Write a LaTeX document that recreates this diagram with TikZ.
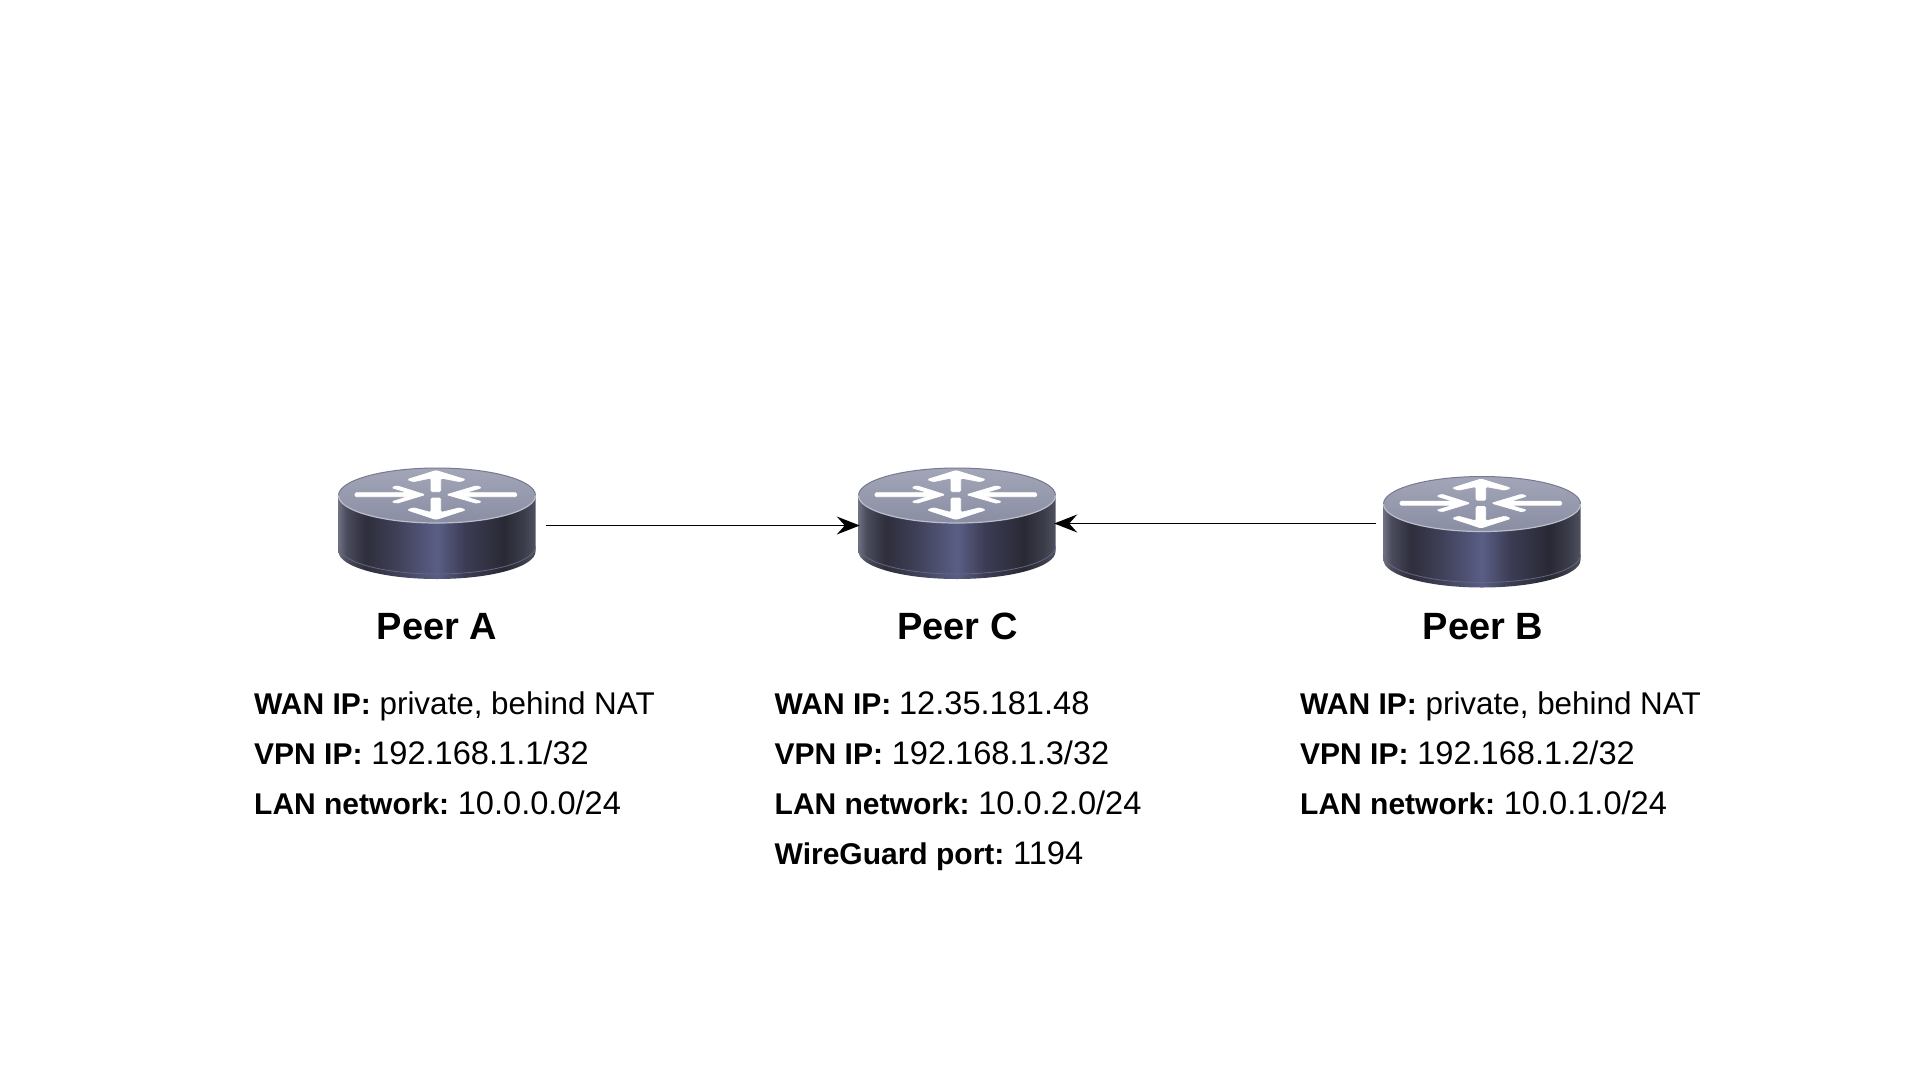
\documentclass[tikz,border=0pt]{standalone}
\usepackage{fontspec}
\setmainfont{Liberation Sans}
\usetikzlibrary{arrows.meta}

\definecolor{sideA}{HTML}{6E6F80}
\definecolor{sideB}{HTML}{4A4B5C}
\definecolor{sideC}{HTML}{2E2E3C}
\definecolor{sideD}{HTML}{404159}
\definecolor{sideE}{HTML}{5A5E86}
\definecolor{sideF}{HTML}{3C3D54}
\definecolor{sideG}{HTML}{292935}
\definecolor{sideH}{HTML}{3C3D4A}
\definecolor{sideI}{HTML}{505160}
\definecolor{topA}{HTML}{A3A6B8}
\definecolor{topB}{HTML}{8A8EA3}
\definecolor{rimTop}{HTML}{777A90}
\definecolor{rimLow}{HTML}{BCBECB}
\definecolor{rimBase}{HTML}{64667F}

\pgfdeclarehorizontalshading{routerside}{100bp}{color(0bp)=(sideA); color(25bp)=(sideA); color(27bp)=(sideB); color(32bp)=(sideC); color(40bp)=(sideD); color(50bp)=(sideE); color(57bp)=(sideF); color(67bp)=(sideG); color(72bp)=(sideH); color(75bp)=(sideI); color(100bp)=(sideI)}

\newcommand{\peerkey}[1]{\textbf{\fontsize{30}{50}\selectfont #1}}
\newcommand{\peernum}[1]{{\fontsize{32.6}{50}\selectfont #1}}

\tikzset{
  routerbox/.style={minimum width=197pt,minimum height=111pt,inner sep=0pt},
  routerarrow/.style={fill=white,draw=white,line width=.7pt,rounded corners=1.4pt},
  link/.style={line width=1.3pt,shorten >=-1.5pt,-{Stealth[length=23pt,width=18pt,inset=8pt]}},
  peerlabel/.style={anchor=base,inner sep=0pt,font=\fontsize{38}{44}\selectfont\bfseries},
  peerinfo/.style={anchor=north west,inner sep=0pt,align=left,font=\fontsize{31.4}{50}\selectfont},
  pics/routerpic/.style={code={
    \begin{scope}[shift={(0,-28)}]
    % body and base rim
    \path[shading=routerside] (-98.5,0) -- (-98.5,56) arc[start angle=180,end angle=360,x radius=98.5pt,y radius=27.5pt] -- (98.5,0) -- cycle;
    \draw[rimBase,line width=.8pt] (-98.5,51) arc[start angle=180,end angle=360,x radius=98.5pt,y radius=27.5pt];
    % top face
    \path[top color=topA,bottom color=topB] (0,0) ellipse[x radius=98.5pt,y radius=27.5pt];
    \draw[rimTop,line width=1pt] (-98.5,0) arc[start angle=180,end angle=0,x radius=98.5pt,y radius=27.5pt];
    \draw[rimLow,line width=1.2pt] (-98.5,0) arc[start angle=180,end angle=360,x radius=98.5pt,y radius=27.5pt];
    % arrows on the top face
    \path[routerarrow] (-1,-25) -- (28.5,-16) -- (23,-13.8) -- (3.7,-17.5) -- (3.7,-3.8) -- (-6,-3.8) -- (-6,-17.5) -- (-23.7,-13.8) -- (-29.7,-16) -- cycle;
    \path[routerarrow] (-6,2.5) -- (3.7,2.5) -- (3.7,17) -- (23,12.2) -- (28.5,14.5) -- (-1,24) -- (-29.7,14.5) -- (-23.7,12.2) -- (-6,17) -- cycle;
    \path[routerarrow] (-82,-2.8) -- (-28.7,-2.8) -- (-45.3,-7.8) -- (-40.3,-9.8) -- (-12,-0.8) -- (-40.3,7.8) -- (-45.3,6.2) -- (-28.7,1.2) -- (-82,1.2) -- cycle;
    \path[routerarrow] (79.7,-2.8) -- (28,-2.8) -- (44.7,-7.8) -- (39.7,-9.8) -- (9.7,-0.8) -- (39.7,7.8) -- (44.7,6.2) -- (28,1.2) -- (79.7,1.2) -- cycle;
    \end{scope}
  }}
}

\begin{document}
\begin{tikzpicture}[x=1pt,y=-1pt]
\useasboundingbox (0,0) rectangle (1920,1080);
\fill[white] (0,0) rectangle (1920,1080);

\node[routerbox] (peerA) at (437,523.5) {};
\node[routerbox] (peerC) at (957,523.5) {};
\node[routerbox] (peerB) at (1482,532) {};
\pic at (peerA) {routerpic};
\pic at (peerC) {routerpic};
\pic at (peerB) {routerpic};

\draw[link,shorten <=10pt] ([yshift=-2pt]peerA.east) -- ([yshift=-2pt]peerC.west);
\draw[link,shorten <=7pt] (peerB.west |- peerC.east) -- (peerC.east);

\node[peerlabel] (labelA) at (437,639) {Peer A};
\node[peerlabel] (labelC) at (957.5,639) {Peer C};
\node[peerlabel] (labelB) at (1483,639) {Peer B};

\node[peerinfo] (infoA) at (254,692) {\peerkey{WAN IP:} private, behind NAT\\\peerkey{VPN IP:} \peernum{192.168.1.1/32}\\\peerkey{LAN network:}\hspace{-3pt} \peernum{10.0.0.0/24}};
\node[peerinfo] (infoC) at (774.5,691.5) {\peerkey{WAN IP:}\hspace{-1pt} \peernum{12.35.181.48}\\\peerkey{VPN IP:} \peernum{192.168.1.3/32}\\\peerkey{LAN network:}\hspace{-3pt} \peernum{10.0.2.0/24}\\\peerkey{WireGuard port:}\hspace{-3pt} \peernum{1194}};
\node[peerinfo] (infoB) at (1300,692) {\peerkey{WAN IP:} private, behind NAT\\\peerkey{VPN IP:} \peernum{192.168.1.2/32}\\\peerkey{LAN network:}\hspace{-3pt} \peernum{10.0.1.0/24}};
\end{tikzpicture}
\end{document}
